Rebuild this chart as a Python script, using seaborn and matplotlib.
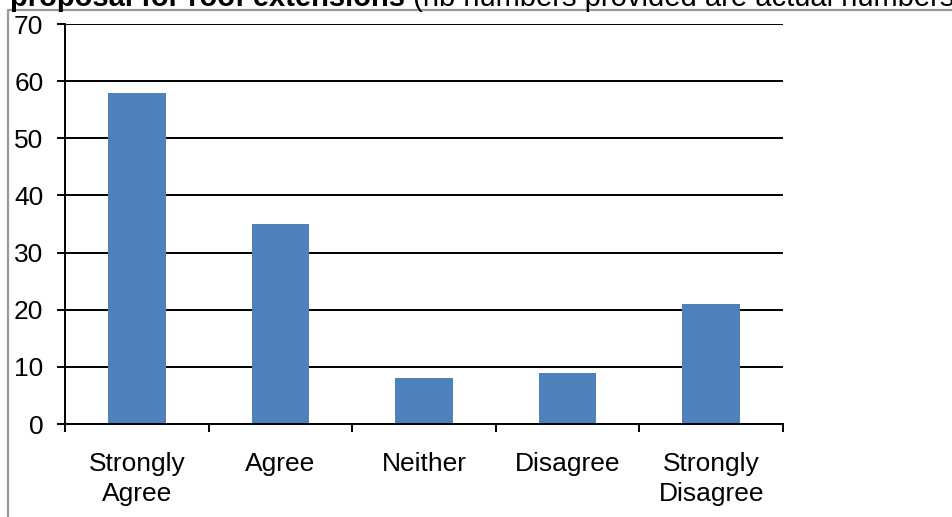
import matplotlib
matplotlib.use("Agg")
import matplotlib.pyplot as plt
from matplotlib.lines import Line2D
import seaborn as sns
import pandas as pd

categories = ["Strongly\nAgree", "Agree", "Neither", "Disagree", "Strongly\nDisagree"]
responses = [58, 35, 8, 9, 21]
y_ticks = [0, 10, 20, 30, 40, 50, 60, 70]

title_bold = "proposal for roof extensions"
title_rest = " (nb numbers provided are actual numbers)"

sns.set_theme(style="white")
plt.rcParams["font.family"] = ["Liberation Sans", "DejaVu Sans"]
plt.rcParams["text.color"] = "black"

W, H = 953, 517
fig = plt.figure(figsize=(W / 100, H / 100), dpi=100)
fig.patch.set_facecolor("white")

left, right, top, bottom = 65, 783, 24, 424
ax = fig.add_axes([left / W, (H - bottom) / H, (right - left) / W, (bottom - top) / H])

df = pd.DataFrame({"response": categories, "count": responses})
sns.barplot(data=df, x="response", y="count", color="#4F81BD", saturation=1,
            width=0.4, linewidth=0, ax=ax, zorder=3)

ax.set_xlim(-0.5, len(categories) - 0.5)
ax.set_ylim(0, 70)
ax.set_yticks(y_ticks)
ax.set_xlabel("")
ax.set_ylabel("")

ax.set_axisbelow(True)
ax.yaxis.grid(True, color="black", linewidth=1.4)
ax.xaxis.grid(False)

for s in ["top", "right"]:
    ax.spines[s].set_visible(False)
for s in ["left", "bottom"]:
    ax.spines[s].set_color("black")
    ax.spines[s].set_linewidth(1.4)
    ax.spines[s].set_zorder(4)

ax.tick_params(axis="y", which="major", direction="out", length=5.5, width=1.4,
               color="black", labelcolor="black", labelsize=19, pad=10, left=True)
ax.tick_params(axis="x", which="major", length=0, labelsize=19, pad=20,
               labelcolor="black")
ax.set_xticks([i - 0.5 for i in range(len(categories) + 1)], minor=True)
ax.tick_params(axis="x", which="minor", direction="out", length=5.5, width=1.4,
               color="black", bottom=True)
for lbl in ax.get_xticklabels():
    lbl.set_linespacing(1.32)

# cell border around the chart
fig.add_artist(Line2D([8.5 / W, 1], [1 - 10 / H, 1 - 10 / H], color="#999999",
                      linewidth=1.6, transform=fig.transFigure))
fig.add_artist(Line2D([8.5 / W, 8.5 / W], [0, 1 - 10 / H], color="#999999",
                      linewidth=1.6, transform=fig.transFigure))

# heading line, partly running off the top edge
t1 = fig.text(10 / W, 1 - 6 / H, title_bold, fontsize=21, fontweight="bold",
              va="baseline", ha="left", color="black")
fig.canvas.draw()
bb = t1.get_window_extent()
fig.text(bb.x1 / W, 1 - 6 / H, title_rest, fontsize=21, va="baseline", ha="left",
         color="black")

fig.savefig("out.png", dpi=100)
